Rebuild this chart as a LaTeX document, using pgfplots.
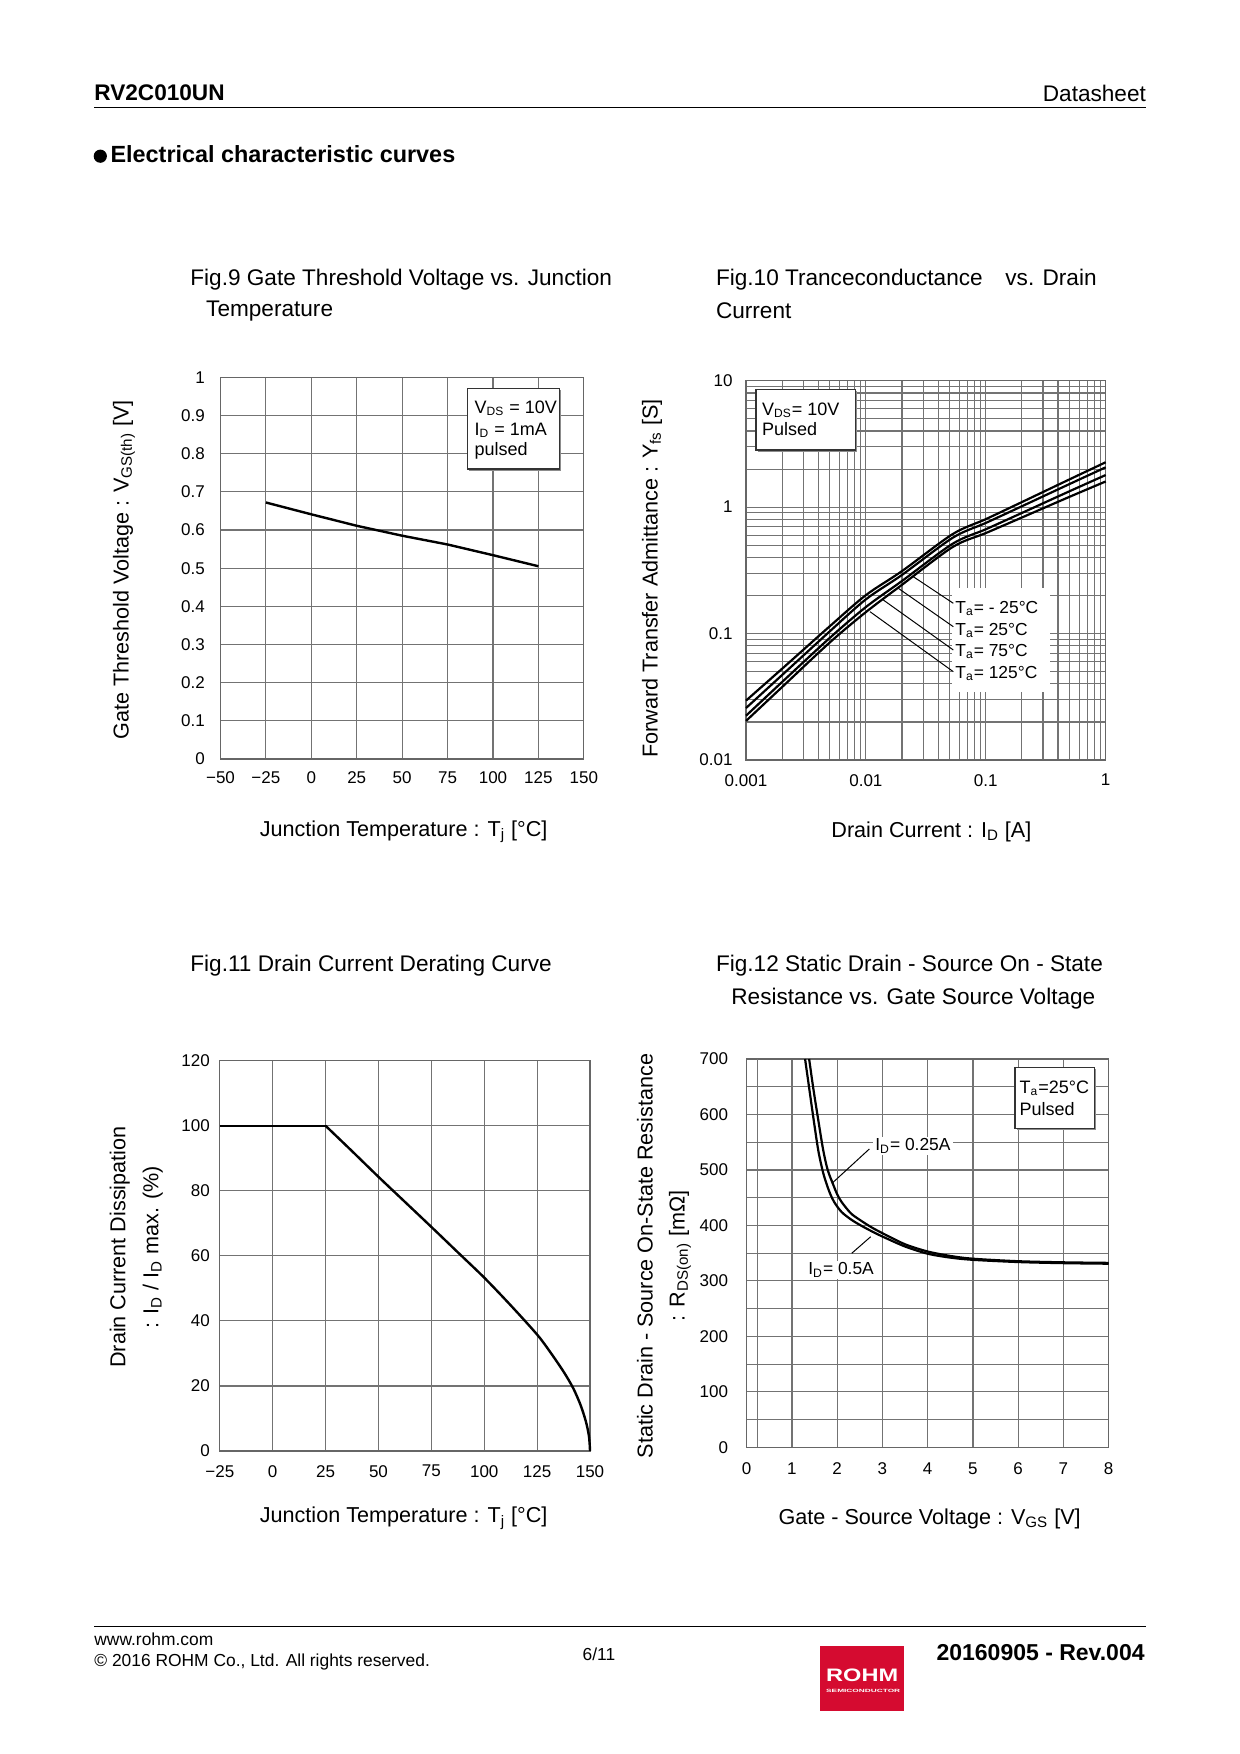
\documentclass[border=0pt]{standalone}
\usepackage{fontspec}
\setmainfont{Liberation Sans}
\usepackage{graphicx}
\usepackage{pgfplots}
\pgfplotsset{compat=1.18}
\definecolor{rohmred}{HTML}{D50B30}
\newcommand\sub[1]{\textsubscript{#1}}
\newcommand\fTitle{\fontsize{11.3}{13.5}\selectfont}
\newcommand\fLab{\fontsize{10.8}{13}\selectfont}
\newcommand\fTick{\fontsize{8.5}{10}\selectfont}
\newcommand\fBox{\fontsize{9}{11}\selectfont}
\pgfplotsset{
  dsaxis/.style={
    scale only axis, anchor=south west, clip=false,
    axis line style={draw=black!60, line width=0.6pt},
    major grid style={draw=black!55, line width=0.55pt},
    minor grid style={draw=black!55, line width=0.55pt},
    major tick length=0pt, minor tick length=0pt,
    tick style={draw=none},
    ticklabel style={font=\fTick},
  }
}
\begin{document}
\begin{tikzpicture}[x=1pt,y=1pt]
\fill[white] (0,0) rectangle (620,-877);
\path[use as bounding box] (0,0) rectangle (620,-877);

% ---------- header ----------
\node[anchor=base west, inner sep=0pt, font=\fontsize{11.3}{13}\selectfont\bfseries] at (47,-50.2) {RV2C010UN};
\node[anchor=base east, inner sep=0pt, font=\fontsize{11.3}{13}\selectfont] at (573.15,-50.6) {Datasheet};
\draw[line width=0.75pt] (47,-53.65) -- (573.15,-53.65);
\fill[black] (50.15,-78.1) circle (3.3);
\node[anchor=base west, inner sep=0pt, font=\fontsize{11.7}{13}\selectfont\bfseries] at (55.1,-81.5) {Electrical characteristic curves};

% ---------- titles ----------
\node[anchor=west, inner sep=0pt, font=\fTitle] at (95,-139.7) {Fig.9 Gate Threshold Voltage vs. Junction};
\node[anchor=west, inner sep=0pt, font=\fTitle] at (102.9,-155.4) {Temperature};
\node[anchor=west, inner sep=0pt, font=\fTitle] at (357.8,-139.7) {Fig.10 Tranceconductance\hspace{8.2pt} vs. Drain};
\node[anchor=west, inner sep=0pt, font=\fTitle] at (357.8,-155.4) {Current};
\node[anchor=west, inner sep=0pt, font=\fTitle] at (95,-483) {Fig.11 Drain Current Derating Curve};
\node[anchor=west, inner sep=0pt, font=\fTitle] at (357.8,-483) {Fig.12 Static Drain - Source On - State};
\node[anchor=west, inner sep=0pt, font=\fTitle] at (365.5,-499.2) {Resistance vs. Gate Source Voltage};

% ---------- Fig.9 ----------
\begin{axis}[dsaxis, at={(110.25pt,-379.5pt)}, width=181.65pt, height=190.85pt,
  xmin=-50, xmax=150, ymin=0, ymax=1, grid=major,
  xtick={-50,-25,0,25,50,75,100,125,150},
  xticklabels={−50,−25,0,25,50,75,100,125,150},
  ytick={0,0.1,0.2,0.3,0.4,0.5,0.6,0.7,0.8,0.9,1},
  yticklabels={0,0.1,0.2,0.3,0.4,0.5,0.6,0.7,0.8,0.9,1},
  xticklabel style={yshift=-2.7pt}, yticklabel style={xshift=-4.3pt}]
\addplot[black, line width=1.2pt] coordinates {
  (-25,0.672) (0,0.641) (25,0.611) (50,0.585) (75,0.562) (100,0.534) (125,0.505)};
\end{axis}
\fill[black!45] (234.7,-195.15) rectangle (280.65,-235.5);
\draw[fill=white, draw=black!80, line width=0.6pt] (233.7,-194.15) rectangle (279.65,-234.5);
\node[anchor=west, inner sep=0pt, font=\fBox] at (237.15,-204.15) {V\sub{DS} = 10V};
\node[anchor=west, inner sep=0pt, font=\fBox] at (237.15,-215.35) {I\sub{D} = 1mA};
\node[anchor=west, inner sep=0pt, font=\fBox] at (237.15,-225.35) {pulsed};
\node[rotate=90, font=\fLab] at (62,-285) {Gate Threshold Voltage : V\sub{GS(th)} [V]};
\node[font=\fLab] at (201.8,-415.9) {Junction Temperature : T\sub{j} [°C]};

% ---------- Fig.10 ----------
\begin{axis}[dsaxis, xmode=log, ymode=log, at={(373pt,-380pt)}, width=179.85pt, height=189.65pt,
  xmin=0.001, xmax=1, ymin=0.01, ymax=10, grid=both,
  xtick={0.001,0.01,0.1,1}, xticklabels={0.001,0.01,0.1,1},
  ytick={0.01,0.1,1,10}, yticklabels={0.01,0.1,1,10},
  minor xtick={0.002,0.003,0.004,0.005,0.006,0.007,0.008,0.009,0.02,0.03,0.04,0.05,0.06,0.07,0.08,0.09,0.2,0.3,0.4,0.5,0.6,0.7,0.8,0.9},
  minor ytick={0.02,0.03,0.04,0.05,0.06,0.07,0.08,0.09,0.2,0.3,0.4,0.5,0.6,0.7,0.8,0.9,2,3,4,5,6,7,8,9},
  xticklabel style={yshift=-3.6pt}, yticklabel style={xshift=-3.2pt}]
\addplot[black, line width=1.1pt, smooth] coordinates {
  (0.001,0.0295) (0.002,0.0527) (0.005,0.1143) (0.01,0.2014) (0.02,0.312) (0.053,0.6124) (0.1,0.8035) (0.2,1.0965) (0.5,1.6596) (1,2.2646)};
\addplot[black, line width=1.1pt, smooth] coordinates {
  (0.001,0.02576) (0.002,0.04699) (0.005,0.1042) (0.01,0.1866) (0.02,0.291) (0.053,0.5728) (0.1,0.7499) (0.2,1.0162) (0.5,1.5241) (1,2.0654)};
\addplot[black, line width=1.1pt, smooth] coordinates {
  (0.001,0.02239) (0.002,0.04140) (0.005,0.09247) (0.01,0.1622) (0.02,0.2606) (0.053,0.5140) (0.1,0.6683) (0.2,0.8995) (0.5,1.3366) (1,1.7947)};
\addplot[black, line width=1.1pt, smooth] coordinates {
  (0.001,0.02037) (0.002,0.03776) (0.005,0.08511) (0.01,0.1479) (0.02,0.2432) (0.053,0.4842) (0.1,0.6237) (0.2,0.8279) (0.5,1.2078) (1,1.5959)};
\end{axis}
\fill[white] (475.85,-294.15) rectangle (525,-345.85);
\draw[line width=0.5pt] (456.65,-288.35) -- (476.65,-301.65);
\draw[line width=0.5pt] (449.15,-294.15) -- (476.65,-313.35);
\draw[line width=0.5pt] (441.65,-300) -- (476.65,-325);
\draw[line width=0.5pt] (435,-305.85) -- (476.65,-335.85);
\node[anchor=west, inner sep=0pt, font=\fontsize{8.7}{10}\selectfont] at (477.5,-304.15) {T\sub{a}= - 25°C};
\node[anchor=west, inner sep=0pt, font=\fontsize{8.7}{10}\selectfont] at (477.5,-315) {T\sub{a}= 25°C};
\node[anchor=west, inner sep=0pt, font=\fontsize{8.7}{10}\selectfont] at (477.5,-325.85) {T\sub{a}= 75°C};
\node[anchor=west, inner sep=0pt, font=\fontsize{8.7}{10}\selectfont] at (477.5,-336.65) {T\sub{a}= 125°C};
\fill[black!45] (379,-195.65) rectangle (428.65,-226);
\draw[fill=white, draw=black!80, line width=0.6pt] (378,-194.65) rectangle (427.65,-225);
\node[anchor=west, inner sep=0pt, font=\fBox] at (380.85,-205) {V\sub{DS}= 10V};
\node[anchor=west, inner sep=0pt, font=\fBox] at (380.85,-214.65) {Pulsed};
\node[rotate=90, font=\fLab] at (326,-289.2) {Forward Transfer Admittance : Y\sub{fs} [S]};
\node[font=\fLab] at (465.7,-415.9) {Drain Current : I\sub{D} [A]};

% ---------- Fig.11 ----------
\begin{axis}[dsaxis, at={(109.9pt,-725.5pt)}, width=185.1pt, height=195.15pt,
  xmin=-25, xmax=150, ymin=0, ymax=120, grid=major,
  xtick={-25,0,25,50,75,100,125,150},
  xticklabels={−25,0,25,50,75,100,125,150},
  ytick={0,20,40,60,80,100,120}, yticklabels={0,20,40,60,80,100,120},
  xticklabel style={yshift=-3.6pt}, yticklabel style={xshift=-1.5pt}]
\addplot[black, line width=1.2pt] coordinates {(-25,100) (25,100)};
\addplot[black, line width=1.2pt, smooth, tension=0.5] coordinates {
  (25,100) (37.5,92.2) (50,84.3) (62.5,76.6) (75,68.9) (87.5,61.1) (100,53.3) (112.5,44.8)
  (125,35.8) (131,30.6) (137.5,24.4) (142,19.4) (145.5,14.2) (148,9.2) (149.4,5) (149.85,2) (150,0)};
\end{axis}
\node[rotate=90, align=center, font=\fontsize{10.8}{16.5}\selectfont] at (68.1,-623.5) {Drain Current Dissipation\\: I\sub{D} / I\sub{D} max. (\%)};
\node[font=\fLab] at (201.8,-759.1) {Junction Temperature : T\sub{j} [°C]};

% ---------- Fig.12 ----------
\begin{axis}[dsaxis, at={(373.35pt,-723.65pt)}, width=181pt, height=194.15pt,
  xmin=0, xmax=8, ymin=0, ymax=700, grid=both,
  xtick={0,1,2,3,4,5,6,7,8}, xticklabels={0,1,2,3,4,5,6,7,8},
  ytick={0,100,200,300,400,500,600,700}, yticklabels={0,100,200,300,400,500,600,700},
  minor ytick={50,150,250,350,450,550,650},
  extra x ticks={0.236}, extra x tick labels={}, extra x tick style={grid=major},
  xticklabel style={yshift=-4.3pt}, yticklabel style={xshift=-5.8pt}]
\addplot[black, line width=1.1pt, smooth, tension=0.5] coordinates {
  (1.29,700) (1.38,648) (1.47,596) (1.58,536) (1.68,498) (1.76,476) (1.85,456) (1.95,440)
  (2.1,424) (2.3,411) (2.5,401) (2.75,390) (3.0,380) (3.5,362) (4.0,349) (4.5,342) (5,338)
  (6,334) (7,332) (8,331)};
\addplot[black, line width=1.1pt, smooth, tension=0.5] coordinates {
  (1.38,700) (1.47,648) (1.57,596) (1.69,536) (1.79,500) (1.90,476) (2.0,456) (2.1,442)
  (2.3,422) (2.5,410) (2.75,397) (3.0,386) (3.5,366) (4.0,353) (4.5,345) (5,340)
  (6,335.5) (7,333.5) (8,332.5)};
\end{axis}
\draw[line width=0.5pt] (434.65,-574.5) -- (416,-591.65);
\draw[line width=0.5pt] (425.85,-626.65) -- (435.35,-618.35);
\node[anchor=west, inner sep=1pt, fill=white, font=\fontsize{8.7}{10}\selectfont] at (436.5,-573) {I\sub{D}= 0.25A};
\node[anchor=west, inner sep=1pt, fill=white, font=\fontsize{8.7}{10}\selectfont] at (403,-635) {I\sub{D}= 0.5A};
\fill[black!45] (508.5,-534.65) rectangle (548.15,-565.15);
\draw[fill=white, draw=black!80, line width=0.6pt] (507.5,-533.65) rectangle (547.15,-564.15);
\node[anchor=west, inner sep=0pt, font=\fBox] at (509.65,-544.15) {T\sub{a}=25°C};
\node[anchor=west, inner sep=0pt, font=\fBox] at (509.65,-554.65) {Pulsed};
\node[rotate=90, align=center, font=\fontsize{10.8}{16}\selectfont] at (332,-628) {Static Drain - Source On-State Resistance\\: R\sub{DS(on)} [mΩ]};
\node[font=\fLab] at (464.8,-759.2) {Gate - Source Voltage : V\sub{GS} [V]};

% ---------- footer ----------
\draw[line width=0.75pt] (47,-813.35) -- (573.15,-813.35);
\node[anchor=base west, inner sep=0pt, font=\fontsize{8.7}{10}\selectfont] at (47,-822.5) {www.rohm.com};
\node[anchor=base west, inner sep=0pt, font=\fontsize{8.7}{10}\selectfont] at (47,-833.3) {© 2016 ROHM Co., Ltd. All rights reserved.};
\node[anchor=base, inner sep=0pt, font=\fontsize{8.7}{10}\selectfont] at (299.5,-830.3) {6/11};
\fill[rohmred] (410,-823) rectangle (452.15,-855.35);
\node[inner sep=0pt, text=white] at (431.1,-837.5) {\resizebox{36pt}{6.3pt}{\bfseries ROHM}};
\node[inner sep=0pt, text=white] at (431.6,-845.3) {\resizebox{37pt}{1.6pt}{\bfseries SEMICONDUCTOR}};
\node[anchor=base east, inner sep=0pt, font=\fontsize{11.5}{13}\selectfont\bfseries] at (572.5,-830.3) {20160905 - Rev.004};
\end{tikzpicture}
\end{document}
